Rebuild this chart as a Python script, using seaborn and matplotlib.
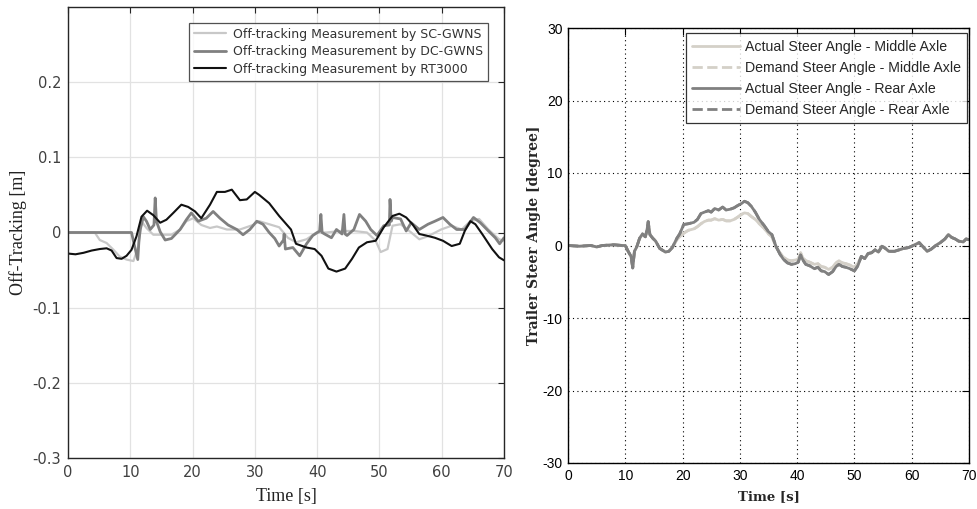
import matplotlib
matplotlib.use("Agg")
import matplotlib.pyplot as plt
import pandas as pd
import seaborn as sns

# ---------------- Off-tracking measurements [m] ----------------
t_sc = [0, 4.3, 5.1, 6.2, 7.3, 8.3, 9.4, 10.5, 11.3, 11.8, 12.6, 13.7, 15, 16.6, 18, 19,
        20.1, 21.4, 22.8, 23.9, 25.5, 27.6, 29.7, 30.7, 32.3, 33.9, 35.3, 36.6, 38.3,
        39.9, 41.5, 43.7, 45.9, 48, 49.4, 50.2, 51.3, 52.1, 53.4, 55.1, 56.4, 57.8,
        59.9, 61.6, 63.2, 64.6, 66, 67.5, 69.2, 70]
sc_gwns = [0, 0, -0.010, -0.014, -0.023, -0.032, -0.036, -0.038, -0.019, 0.015, 0.006,
           -0.003, -0.003, -0.003, 0.004, 0.015, 0.019, 0.010, 0.006, 0.008, 0.004, 0.004,
           0.010, 0.015, 0.011, 0.007, -0.007, -0.013, -0.009, 0.0, 0.0, 0.002, 0.002, 0.0,
           -0.011, -0.026, -0.022, 0.009, 0.011, 0.0, -0.009, -0.005, 0.004, 0.009, 0.004,
           0.015, 0.018, 0.004, -0.009, -0.011]

t_dc = [0, 10.2, 10.6, 11.2, 11.4, 11.6, 12.1, 12.6, 13.2, 13.8, 14.0, 14.2, 14.8, 15.6,
        16.6, 18, 19, 19.8, 20.9, 22.2, 23.3, 24.4, 25.7, 27.1, 28.1, 29.2, 30.3, 31.3,
        32.3, 33.2, 33.9, 34.6, 34.7, 34.9, 36.1, 37.2, 38.3, 39.3, 40.4, 40.6, 40.8,
        41.2, 42.3, 43.1, 44.0, 44.3, 44.5, 44.8, 45.9, 46.8, 47.8, 48.6, 49.6, 50.7,
        51.6, 51.7, 51.9, 52.1, 53.4, 54.3, 55.1, 56.4, 57.8, 58.9, 60.2, 61.3, 62.4,
        63.7, 65.1, 66.2, 67.5, 68.6, 69.3, 70]
dc_gwns = [0, 0, -0.015, -0.036, -0.010, 0.004, 0.021, 0.015, 0.004, 0.010, 0.046, 0.015,
           0.001, -0.010, -0.008, 0.004, 0.017, 0.026, 0.015, 0.019, 0.028, 0.019, 0.010,
           0.004, -0.003, 0.004, 0.015, 0.011, 0.000, -0.008, -0.018, -0.010, -0.002,
           -0.022, -0.020, -0.031, -0.015, -0.004, 0.002, 0.024, 0.000, -0.002, -0.007,
           0.004, -0.002, 0.024, -0.002, -0.004, 0.004, 0.024, 0.015, 0.004, -0.004,
           0.009, 0.010, 0.044, 0.015, 0.020, 0.018, 0.002, 0.013, 0.004, 0.011, 0.015,
           0.020, 0.011, 0.004, 0.004, 0.020, 0.013, 0.002, -0.007, -0.015, -0.007]

t_rt = [0, 1.2, 2.5, 3.8, 5.1, 6.2, 7, 7.8, 8.6, 9.4, 10.2, 11, 11.8, 12.7, 13.7, 14.8,
        15.8, 16.9, 18.2, 19.3, 20.4, 21.4, 22.8, 23.9, 25.2, 26.3, 27.6, 28.7, 30,
        30.7, 32.3, 33.9, 35.8, 36.6, 38.3, 39.6, 40.7, 41.8, 43.1, 44.5, 45.6, 46.7,
        48, 49.4, 50.7, 52.1, 53.2, 54.3, 55.3, 56.4, 57.5, 58.9, 60.2, 61.6, 62.9,
        63.7, 64.6, 65.4, 66.5, 68.1, 69.2, 70]
rt3000 = [-0.028, -0.029, -0.027, -0.024, -0.022, -0.021, -0.024, -0.034, -0.035, -0.031,
          -0.023, -0.005, 0.021, 0.029, 0.023, 0.013, 0.017, 0.026, 0.037, 0.034, 0.028,
          0.019, 0.037, 0.054, 0.054, 0.057, 0.043, 0.044, 0.054, 0.050, 0.039, 0.022,
          0.004, -0.015, -0.020, -0.022, -0.031, -0.048, -0.052, -0.048, -0.035, -0.020,
          -0.013, -0.011, 0.007, 0.022, 0.025, 0.020, 0.011, -0.002, -0.004, -0.007,
          -0.011, -0.018, -0.015, 0.002, 0.015, 0.011, -0.002, -0.022, -0.033, -0.037]

off_labels = ["Off-tracking Measurement by SC-GWNS",
              "Off-tracking Measurement by DC-GWNS",
              "Off-tracking Measurement by RT3000"]
off_yticks = [-0.3, -0.2, -0.1, 0, 0.1, 0.2]
off_yticklabels = ["-0.3", "-0.2", "-0.1", "0", "0.1", "0.2"]
time_ticks = [0, 10, 20, 30, 40, 50, 60, 70]

# ---------------- Trailer steer angles [degree] ----------------
t_steer = [0, 2, 4, 5, 6, 8, 9.5, 10, 10.5, 11, 11.3, 11.6, 12, 12.5, 13, 13.5, 13.8, 14,
           14.3, 14.8, 15.3, 16, 17, 17.6, 18.2, 19, 19.5, 20.2, 21, 22, 22.6, 23.2,
           23.8, 24.5, 25, 25.6, 26.3, 27, 27.6, 28.3, 29, 29.6, 30.3, 30.8, 31.4, 32,
           32.7, 33.4, 34.2, 35, 35.6, 36.3, 37, 37.6, 38.3, 39, 39.7, 40.2, 40.6, 41,
           41.5, 42.2, 43, 43.6, 44.2, 44.8, 45.5, 46.2, 46.8, 47.3, 47.9, 48.5, 49.2,
           50, 50.6, 51.2, 51.8, 52.4, 53, 53.6, 54.2, 54.8, 55.4, 56, 57, 57.8, 58.6,
           59.4, 60, 60.8, 61.3, 62, 62.7, 63.4, 64.2, 65, 65.8, 66.4, 67, 67.6, 68.2,
           69, 69.5, 70]
rear_actual = [0.0, -0.1, 0.0, -0.2, 0.0, 0.1, 0.0, 0.0, -0.8, -1.5, -3.1, -0.8, -0.2, 1.0,
               1.6, 1.2, 2.2, 3.3, 1.5, 1.0, 0.6, -0.4, -0.9, -0.8, -0.3, 1.0, 1.6, 2.9,
               3.0, 3.2, 3.6, 4.4, 4.6, 4.8, 4.6, 5.1, 4.9, 5.3, 4.9, 5.0, 5.2, 5.5, 5.8,
               6.1, 5.9, 5.4, 4.6, 3.6, 2.8, 1.9, 1.5, -0.1, -1.2, -1.9, -2.4, -2.6, -2.5,
               -2.3, -1.3, -2.0, -2.6, -2.8, -3.2, -3.0, -3.5, -3.6, -4.0, -3.6, -2.9,
               -2.6, -2.9, -3.0, -3.2, -3.5, -2.8, -1.5, -1.8, -1.1, -1.0, -0.6, -0.9,
               -0.1, -0.4, -0.8, -0.8, -0.6, -0.4, -0.3, -0.1, 0.2, 0.4, -0.2, -0.8, -0.5,
               0.0, 0.4, 0.9, 1.5, 1.1, 0.9, 0.6, 0.5, 0.9, 0.8]
mid_actual = [0.0, -0.1, 0.0, -0.2, 0.0, 0.1, 0.0, 0.0, -0.8, -1.5, -3.0, -0.8, -0.2, 1.0,
              1.5, 1.2, 2.0, 3.0, 1.5, 1.0, 0.6, -0.4, -0.9, -0.8, -0.3, 0.8, 1.2, 1.7,
              2.1, 2.3, 2.6, 3.0, 3.3, 3.5, 3.5, 3.7, 3.5, 3.6, 3.4, 3.4, 3.6, 3.9, 4.3,
              4.5, 4.4, 4.0, 3.6, 3.0, 2.4, 1.6, 1.2, -0.2, -1.0, -1.6, -2.0, -2.1, -2.0,
              -1.9, -1.0, -1.7, -2.1, -2.3, -2.6, -2.5, -2.9, -3.0, -3.3, -3.0, -2.4,
              -2.1, -2.4, -2.5, -2.7, -3.0, -2.5, -1.5, -1.8, -1.1, -1.0, -0.6, -0.9,
              -0.1, -0.4, -0.8, -0.8, -0.6, -0.4, -0.3, -0.1, 0.2, 0.4, -0.2, -0.8, -0.5,
              0.0, 0.4, 0.9, 1.5, 1.1, 0.9, 0.6, 0.5, 0.9, 0.8]
# demand follows the actual angle closely on both axles
mid_demand = list(mid_actual)
rear_demand = list(rear_actual)

steer_labels = ["Actual Steer Angle - Middle Axle", "Demand Steer Angle - Middle Axle",
                "Actual Steer Angle - Rear Axle", "Demand Steer Angle - Rear Axle"]
steer_yticks = [-30, -20, -10, 0, 10, 20, 30]

# ---------------- figure ----------------
sns.set_style("white")
plt.rcParams["font.family"] = ["DejaVu Sans"]

fig = plt.figure(figsize=(9.78, 5.09), dpi=100)
ax1 = fig.add_axes([68 / 978, 51 / 509, 436 / 978, 451 / 509])
ax2 = fig.add_axes([568 / 978, 46 / 509, 401 / 978, 435 / 509])

# left panel: off-tracking
off = [
    (t_sc, sc_gwns, "#c8c8c8", 1.6),
    (t_dc, dc_gwns, "#808080", 2.0),
    (t_rt, rt3000, "#111111", 1.5),
]
for (tt, vv, col, lw), lab in zip(off, off_labels):
    df = pd.DataFrame({"t": tt, "v": vv})
    sns.lineplot(data=df, x="t", y="v", ax=ax1, color=col, lw=lw, label=lab,
                 estimator=None, sort=False, legend=False)

ax1.set_xlim(0, 70)
ax1.set_ylim(-0.3, 0.3)
ax1.set_xticks(time_ticks)
ax1.set_xticklabels([str(v) for v in time_ticks])
ax1.set_yticks(off_yticks)
ax1.set_yticklabels(off_yticklabels)
ax1.grid(True, color="#e2e2e2", lw=0.9)
ax1.set_axisbelow(True)
for s in ax1.spines.values():
    s.set_color("#262626")
    s.set_linewidth(1.0)
ax1.tick_params(direction="in", length=4, width=0.8, top=True, right=True,
                color="#262626", labelcolor="#404040", labelsize=10.5, pad=5)
ax1.set_xlabel("Time [s]", family="Liberation Serif", fontsize=13, color="#222222")
ax1.set_ylabel("Off-Tracking [m]", family="Liberation Serif", fontsize=13, color="#222222")
ax1.xaxis.set_label_coords(0.5, -0.066)
ax1.yaxis.set_label_coords(-0.094, 0.5)
leg1 = ax1.legend(loc="upper right", bbox_to_anchor=(0.963, 0.965), borderaxespad=0,
                  fontsize=9, frameon=True, fancybox=False, handlelength=2.6,
                  labelspacing=0.35, borderpad=0.4, handletextpad=0.5)
leg1.get_frame().set_edgecolor("#262626")
leg1.get_frame().set_linewidth(0.9)
for txt in leg1.get_texts():
    txt.set_color("#333333")

# right panel: trailer steer angles
steer = [
    (mid_actual, "#d4d0c8", "-"),
    (mid_demand, "#d4d0c8", "--"),
    (rear_actual, "#808080", "-"),
    (rear_demand, "#808080", "--"),
]
for (vals, col, ls), lab in zip(steer, steer_labels):
    df = pd.DataFrame({"t": t_steer, "deg": vals})
    sns.lineplot(data=df, x="t", y="deg", ax=ax2, color=col, lw=2.0, linestyle=ls,
                 label=lab, estimator=None, sort=False, legend=False)

ax2.set_xlim(0, 70)
ax2.set_ylim(-30, 30)
ax2.set_xticks(time_ticks)
ax2.set_xticklabels([str(v) for v in time_ticks], family="Liberation Sans")
ax2.set_yticks(steer_yticks)
ax2.set_yticklabels([str(v) for v in steer_yticks], family="Liberation Sans")
ax2.grid(True, color="black", linestyle=(0, (1, 3)), lw=0.8)
for s in ax2.spines.values():
    s.set_color("black")
    s.set_linewidth(1.0)
ax2.tick_params(direction="in", length=5, width=0.8, top=True, right=True,
                color="black", labelcolor="black", labelsize=10, pad=4)
ax2.set_xlabel("Time [s]", family="DejaVu Serif", fontweight="bold", fontsize=9.5)
ax2.set_ylabel("Trailer Steer Angle [degree]", family="DejaVu Serif",
               fontweight="bold", fontsize=10)
ax2.xaxis.set_label_coords(0.5, -0.062)
ax2.yaxis.set_label_coords(-0.067, 0.524)
leg2 = ax2.legend(loc="upper right", bbox_to_anchor=(0.995, 0.988), borderaxespad=0,
                  prop={"family": "Liberation Sans", "size": 10.2}, frameon=True,
                  fancybox=False, handlelength=3.4, labelspacing=0.5, borderpad=0.45,
                  handletextpad=0.3)
leg2.get_frame().set_edgecolor("black")
leg2.get_frame().set_linewidth(0.9)

fig.savefig("out.png", dpi=100, facecolor="white")
